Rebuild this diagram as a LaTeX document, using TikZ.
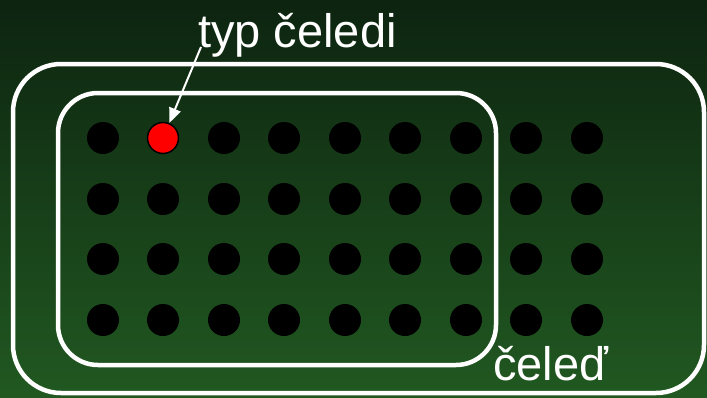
\documentclass[tikz,border=0pt]{standalone}
\usepackage{fontspec}
\setmainfont{Liberation Sans}
\usetikzlibrary{arrows.meta}
\definecolor{bgtop}{RGB}{13,36,16}
\definecolor{bgbot}{RGB}{33,88,33}
\definecolor{dotred}{RGB}{255,0,0}
\tikzset{
  dotnode/.style={circle,fill=black,minimum size=32pt,inner sep=0pt},
  typenode/.style={circle,fill=dotred,draw=black,line width=1.5pt,minimum size=31pt,inner sep=0pt},
  frame/.style={draw=white,line width=4.5pt},
  lbl/.style={text=white,font=\fontsize{47}{50}\selectfont,inner sep=0pt,anchor=base west},
  pointer/.style={draw=white,line width=2pt,-{Triangle[length=15pt,width=12pt]}}
}
\begin{document}
\begin{tikzpicture}[x=1pt,y=-1pt]
\useasboundingbox (0,0) rectangle (707,397);
\shade[top color=bgtop,bottom color=bgbot] (0,0) rectangle (707,397);
\draw[frame,rounded corners=48pt] (13,64) rectangle (704,393);
\draw[frame,rounded corners=40pt] (58,93) rectangle (496,365);
\foreach \r/\y in {1/138,2/199,3/259,4/320}{
  \foreach \c/\x in {1/103,2/163,3/224,4/284,5/345,6/405,7/466,8/526,9/587}{
    \ifnum\r\c=12\relax\else
      \node[dotnode] (d-\c-\r) at (\x,\y) {};
    \fi
  }
}
\node[typenode] (typdot) at (163,138) {};
\node[lbl] (typ) at (198,47) {typ čeledi};
\node[lbl] (cel) at (493,380) {čeleď};
\coordinate (as) at (201,47);
\draw[pointer] (as) -- (typdot);
\end{tikzpicture}
\end{document}
